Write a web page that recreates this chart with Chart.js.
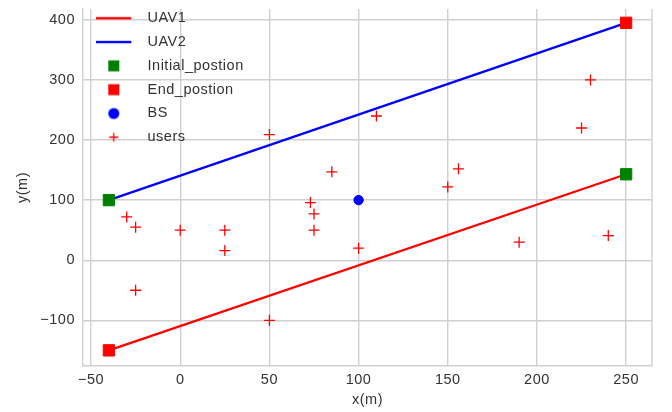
<!DOCTYPE html>
<html>
<head>
<meta charset="utf-8">
<script src="https://cdn.jsdelivr.net/npm/chart.js@4.4.1/dist/chart.umd.min.js"></script>
<style>
  html, body { margin: 0; padding: 0; background: #fff; overflow: hidden; }
  #box { width: 672px; height: 412px; }
</style>
</head>
<body>
<div id="box"><canvas id="grafico" width="672" height="412"></canvas></div>
<script>
// trajetorias dos UAVs
const uav1X = [-40, 250];
const uav1Y = [-150, 143];
const uav2X = [-40, 250];
const uav2Y = [100, 395];

// posicoes inicial / final
const initX = [-40, 250];
const initY = [100, 143];
const endX = [-40, 250];
const endY = [-150, 395];

// estacao base
const bsX = [100];
const bsY = [100];

// usuarios
const usersX = [50, 110, 230, 225, 85, 156, 150, 73, 75, 75, 100, -30, -25, 0, 25, 25, -25, 50, 190, 240];
const usersY = [209, 240, 300, 220, 147, 152, 122, 96, 77, 50, 20, 72, 55, 50, 50, 16, -50, -100, 30, 41];

// ticks dos eixos
const xTicks = [-50, 0, 50, 100, 150, 200, 250];
const yTicks = [-100, 0, 100, 200, 300, 400];

const corGrade = '#d0d0d0';
const corTexto = '#333333';

Chart.defaults.font.family = "'Liberation Sans', Arial, sans-serif";
Chart.defaults.font.size = 14.5;
Chart.defaults.color = corTexto;

function pontos(xs, ys) {
    return xs.map((x, i) => ({ x: x, y: ys[i] }));
}

function formatar(v) {
    return v < 0 ? '\u2212' + Math.abs(v) : String(v);
}

// simbolos da legenda desenhados em canvas pequenos
function simbolo(tipo, cor) {
    const c = document.createElement('canvas');
    c.width = 40;
    c.height = 14;
    const g = c.getContext('2d');
    const cx = 17.5, cy = 7;
    g.fillStyle = cor;
    g.strokeStyle = cor;
    if (tipo === 'line') {
        g.fillRect(0, cy - 1.2, 35, 2.4);
    } else if (tipo === 'rect') {
        g.fillRect(cx - 5.5, cy - 5.5, 11, 11);
    } else if (tipo === 'circle') {
        g.beginPath();
        g.arc(cx, cy, 5.5, 0, Math.PI * 2);
        g.fill();
    } else if (tipo === 'cross') {
        g.lineWidth = 1.3;
        g.beginPath();
        g.moveTo(cx - 4.5, cy);
        g.lineTo(cx + 4.5, cy);
        g.moveTo(cx, cy - 4.5);
        g.lineTo(cx, cy + 4.5);
        g.stroke();
    }
    return c;
}

const itensLegenda = [
    { text: 'UAV1', tipo: 'line', cor: '#ff0000' },
    { text: 'UAV2', tipo: 'line', cor: '#0000ff' },
    { text: 'Initial_postion', tipo: 'rect', cor: '#008000' },
    { text: 'End_postion', tipo: 'rect', cor: '#ff0000' },
    { text: 'BS', tipo: 'circle', cor: '#0000ff' },
    { text: 'users', tipo: 'cross', cor: '#ff0000' }
];

// espacamento das letras e borda direita
const ajustes = {
    id: 'ajustes',
    beforeUpdate(chart) { chart.ctx.letterSpacing = '0.5px'; },
    beforeDraw(chart) { chart.ctx.letterSpacing = '0.5px'; },
    beforeDatasetsDraw(chart) {
        const a = chart.chartArea;
        const ctx = chart.ctx;
        ctx.save();
        ctx.strokeStyle = corGrade;
        ctx.lineWidth = 1.4;
        ctx.beginPath();
        ctx.moveTo(a.right, a.top);
        ctx.lineTo(a.right, a.bottom);
        ctx.stroke();
        ctx.restore();
    }
};

const ctx = document.getElementById('grafico').getContext('2d');

window.meuGrafico = new Chart(ctx, {
    type: 'scatter',
    data: {
        datasets: [
            {
                label: 'UAV1',
                data: pontos(uav1X, uav1Y),
                showLine: true,
                borderColor: '#ff0000',
                borderWidth: 2.3,
                pointRadius: 0,
                order: 2
            },
            {
                label: 'UAV2',
                data: pontos(uav2X, uav2Y),
                showLine: true,
                borderColor: '#0000ff',
                borderWidth: 2.3,
                pointRadius: 0,
                order: 2
            },
            {
                label: 'Initial_postion',
                data: pontos(initX, initY),
                pointStyle: 'rect',
                pointRadius: 8,
                backgroundColor: '#008000',
                borderColor: '#008000',
                borderWidth: 1,
                order: 1
            },
            {
                label: 'End_postion',
                data: pontos(endX, endY),
                pointStyle: 'rect',
                pointRadius: 8,
                backgroundColor: '#ff0000',
                borderColor: '#ff0000',
                borderWidth: 1,
                order: 1
            },
            {
                label: 'BS',
                data: pontos(bsX, bsY),
                pointStyle: 'circle',
                pointRadius: 4.7,
                backgroundColor: '#0000ff',
                borderColor: '#0000ff',
                borderWidth: 1,
                order: 1
            },
            {
                label: 'users',
                data: pontos(usersX, usersY),
                pointStyle: 'cross',
                pointRadius: 5.5,
                borderColor: '#ff0000',
                borderWidth: 1.3,
                order: 1
            }
        ]
    },
    options: {
        responsive: false,
        animation: false,
        layout: {
            padding: { left: 0, right: 20, top: 0, bottom: 0 }
        },
        scales: {
            x: {
                type: 'linear',
                min: -54.5,
                max: 264.5,
                afterBuildTicks: s => { s.ticks = xTicks.map(v => ({ value: v })); },
                afterFit: s => {
                    s.height = 46;
                    s.paddingLeft = 0;
                    s.paddingRight = 0;
                },
                ticks: {
                    padding: 5,
                    maxRotation: 0,
                    callback: v => formatar(v)
                },
                grid: { color: corGrade, lineWidth: 1.4, drawTicks: false },
                border: { color: corGrade, width: 1.4 },
                title: {
                    display: true,
                    text: 'x(m)',
                    padding: { top: 0, bottom: 3 }
                }
            },
            y: {
                type: 'linear',
                min: -176,
                max: 418,
                afterBuildTicks: s => { s.ticks = yTicks.map(v => ({ value: v })); },
                afterFit: s => {
                    s.width = 83;
                    s.paddingTop = 0;
                    s.paddingBottom = 0;
                },
                ticks: {
                    padding: 8,
                    callback: v => formatar(v)
                },
                grid: { color: corGrade, lineWidth: 1.4, drawTicks: false },
                border: { color: corGrade, width: 1.4 },
                title: {
                    display: true,
                    text: 'y(m)',
                    padding: { top: 14, bottom: 0 }
                }
            }
        },
        plugins: {
            tooltip: { enabled: false },
            legend: {
                position: 'chartArea',
                align: 'start',
                title: {
                    display: true,
                    text: ' ',
                    font: { size: 1 },
                    padding: { top: 0, bottom: 0.5 }
                },
                labels: {
                    usePointStyle: true,
                    pointStyleWidth: 48,
                    padding: 9.3,
                    color: corTexto,
                    generateLabels: function() {
                        return itensLegenda.map((item, i) => ({
                            text: item.text,
                            pointStyle: simbolo(item.tipo, item.cor),
                            fillStyle: item.cor,
                            strokeStyle: item.cor,
                            lineWidth: 0,
                            hidden: false,
                            datasetIndex: i,
                            fontColor: corTexto
                        }));
                    }
                }
            }
        }
    },
    plugins: [ajustes]
});
</script>
</body>
</html>
